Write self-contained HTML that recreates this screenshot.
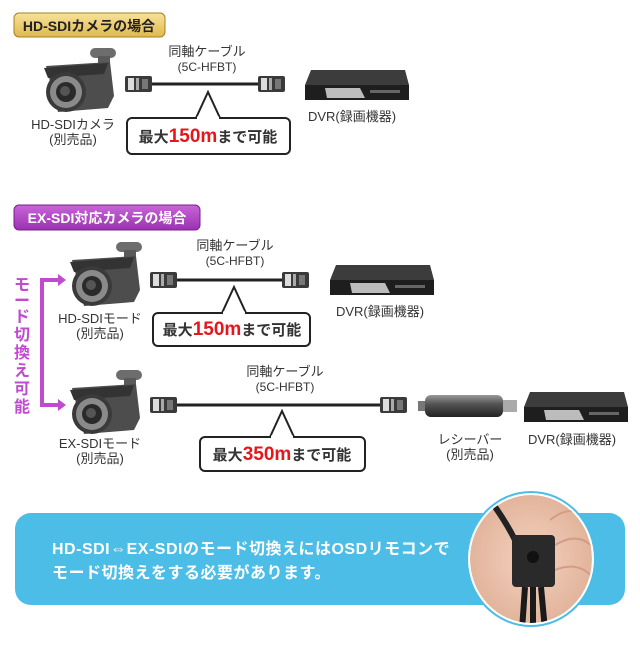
<!DOCTYPE html>
<html><head><meta charset="utf-8"><style>
body{margin:0;background:#fff;width:640px;height:640px;overflow:hidden}
svg text{font-family:"Liberation Sans","Noto Sans CJK JP",sans-serif}
</style></head><body>
<svg width="640" height="640" viewBox="0 0 640 640" xmlns="http://www.w3.org/2000/svg">
<defs>
<linearGradient id="gold" x1="0" y1="0" x2="0" y2="1"><stop offset="0" stop-color="#f7e29a"/><stop offset="1" stop-color="#e0b94e"/></linearGradient>
<linearGradient id="purp" x1="0" y1="0" x2="0" y2="1"><stop offset="0" stop-color="#c865d8"/><stop offset="1" stop-color="#9a32b0"/></linearGradient>
<linearGradient id="rec" x1="0" y1="0" x2="0" y2="1"><stop offset="0" stop-color="#999"/><stop offset="0.4" stop-color="#555"/><stop offset="1" stop-color="#222"/></linearGradient>
<radialGradient id="hand" cx="0.5" cy="0.5" r="0.5"><stop offset="0" stop-color="#f4d2bf"/><stop offset="1" stop-color="#e2b49c"/></radialGradient>
<g id="cam">
 <rect x="52" y="2" width="26" height="10" rx="5" fill="#6d6d6d"/>
 <rect x="60" y="10" width="12" height="10" fill="#5a5a5a"/>
 <path d="M8 20 L72 16 L76 50 L70 62 L20 66 Z" fill="#4d4d4d"/>
 <path d="M6 22 L70 17 L66 28 L10 32 Z" fill="#333"/>
 <ellipse cx="28" cy="46" rx="20" ry="20" fill="#3a3a3a"/>
 <ellipse cx="28" cy="46" rx="16" ry="16" fill="#8a8a8a"/>
 <ellipse cx="28" cy="46" rx="10" ry="10" fill="#2a2a2a"/>
 <ellipse cx="27" cy="45" rx="5" ry="5" fill="#555"/>
</g>
<g id="dvr">
 <path d="M6 0 L100 0 L104 15 L0 15 Z" fill="#3c3c3c"/>
 <rect x="0" y="15" width="104" height="15" fill="#1e1e1e"/>
 <path d="M20 18 L55 18 L60 28 L22 28 Z" fill="#bcbcbc"/>
 <rect x="65" y="20" width="30" height="3" fill="#666"/>
</g>
<g id="bnc">
 <rect x="0" y="0" width="27" height="16" rx="2" fill="#3a3a3a"/>
 <rect x="3" y="2" width="6" height="12" fill="#ddd"/>
 <rect x="11" y="2" width="3" height="12" fill="#aaa"/>
 <rect x="17" y="3" width="6" height="10" fill="#777"/>
</g>
<clipPath id="cc"><ellipse cx="531" cy="559" rx="61" ry="64"/></clipPath>
</defs>

<!-- Section 1 -->
<rect x="14" y="13" width="151" height="24" rx="5" fill="url(#gold)" stroke="#a4821f"/>
<text x="89" y="31" font-size="14" font-weight="bold" fill="#222" text-anchor="middle">HD-SDIカメラの場合</text>
<use href="#cam" x="38" y="46"/>
<text x="73" y="129" font-size="13" fill="#333" text-anchor="middle">HD-SDIカメラ</text>
<text x="73" y="144" font-size="13" fill="#333" text-anchor="middle">(別売品)</text>
<text x="207" y="56" font-size="13" fill="#333" text-anchor="middle">同軸ケーブル</text>
<text x="207" y="71" font-size="12" fill="#333" text-anchor="middle">(5C-HFBT)</text>
<line x1="150" y1="84" x2="262" y2="84" stroke="#222" stroke-width="3"/>
<use href="#bnc" x="125" y="76"/>
<use href="#bnc" x="258" y="76"/>
<path d="M196 118 L208 92 L220 118" fill="#fff" stroke="#222" stroke-width="2"/>
<rect x="127" y="118" width="163" height="36" rx="5" fill="#fff" stroke="#222" stroke-width="2"/>
<line x1="197" y1="118" x2="219" y2="118" stroke="#fff" stroke-width="3"/>
<text x="208" y="142" font-size="15" font-weight="bold" fill="#333" text-anchor="middle">最大<tspan fill="#e8161c" font-size="19">150m</tspan>まで可能</text>
<use href="#dvr" x="305" y="70"/>
<text x="352" y="121" font-size="13" fill="#333" text-anchor="middle">DVR(録画機器)</text>

<!-- Section 2 -->
<rect x="14" y="205" width="186" height="25" rx="5" fill="url(#purp)" stroke="#7a1f8c"/>
<text x="107" y="223" font-size="14" font-weight="bold" fill="#fff" text-anchor="middle">EX-SDI対応カメラの場合</text>

<g fill="#c04bd0">
 <path d="M40 278 L58 278 L58 274 L66 280 L58 286 L58 282 L44 282 L44 403 L58 403 L58 399 L66 405 L58 411 L58 407 L40 407 Z"/>
</g>
<g font-size="16" font-weight="bold" fill="#c04bd0" text-anchor="middle">
 <text x="22" y="290">モ</text><text x="22" y="306">ー</text><text x="22" y="322">ド</text><text x="22" y="340">切</text><text x="22" y="358">換</text><text x="22" y="376">え</text><text x="22" y="394">可</text><text x="22" y="412">能</text>
</g>

<use href="#cam" x="64" y="240"/>
<text x="100" y="323" font-size="13" fill="#333" text-anchor="middle">HD-SDIモード</text>
<text x="100" y="338" font-size="13" fill="#333" text-anchor="middle">(別売品)</text>
<text x="235" y="250" font-size="13" fill="#333" text-anchor="middle">同軸ケーブル</text>
<text x="235" y="265" font-size="12" fill="#333" text-anchor="middle">(5C-HFBT)</text>
<line x1="172" y1="280" x2="285" y2="280" stroke="#222" stroke-width="3"/>
<use href="#bnc" x="150" y="272"/>
<use href="#bnc" x="282" y="272"/>
<path d="M222 313 L234 287 L246 313" fill="#fff" stroke="#222" stroke-width="2"/>
<rect x="153" y="313" width="157" height="33" rx="5" fill="#fff" stroke="#222" stroke-width="2"/>
<line x1="223" y1="313" x2="245" y2="313" stroke="#fff" stroke-width="3"/>
<text x="232" y="335" font-size="15" font-weight="bold" fill="#333" text-anchor="middle">最大<tspan fill="#e8161c" font-size="19">150m</tspan>まで可能</text>
<use href="#dvr" x="330" y="265"/>
<text x="380" y="316" font-size="13" fill="#333" text-anchor="middle">DVR(録画機器)</text>

<use href="#cam" x="64" y="368"/>
<text x="100" y="448" font-size="13" fill="#333" text-anchor="middle">EX-SDIモード</text>
<text x="100" y="463" font-size="13" fill="#333" text-anchor="middle">(別売品)</text>
<text x="285" y="376" font-size="13" fill="#333" text-anchor="middle">同軸ケーブル</text>
<text x="285" y="391" font-size="12" fill="#333" text-anchor="middle">(5C-HFBT)</text>
<line x1="172" y1="405" x2="385" y2="405" stroke="#222" stroke-width="3"/>
<use href="#bnc" x="150" y="397"/>
<use href="#bnc" x="380" y="397"/>
<path d="M270 437 L282 411 L294 437" fill="#fff" stroke="#222" stroke-width="2"/>
<rect x="200" y="437" width="165" height="34" rx="5" fill="#fff" stroke="#222" stroke-width="2"/>
<line x1="271" y1="437" x2="293" y2="437" stroke="#fff" stroke-width="3"/>
<text x="282" y="460" font-size="15" font-weight="bold" fill="#333" text-anchor="middle">最大<tspan fill="#e8161c" font-size="19">350m</tspan>まで可能</text>

<rect x="418" y="401" width="8" height="10" fill="#777"/>
<rect x="425" y="395" width="78" height="22" rx="6" fill="url(#rec)"/>
<rect x="503" y="400" width="14" height="12" fill="#aaa"/>
<text x="470" y="444" font-size="13" fill="#333" text-anchor="middle">レシーバー</text>
<text x="470" y="459" font-size="13" fill="#333" text-anchor="middle">(別売品)</text>
<use href="#dvr" x="524" y="392"/>
<text x="572" y="444" font-size="13" fill="#333" text-anchor="middle">DVR(録画機器)</text>

<!-- bottom -->
<rect x="15" y="513" width="610" height="92" rx="16" fill="#4bbde6"/>
<text x="52" y="554" font-size="16" font-weight="bold" fill="#fff" letter-spacing="0.5">HD-SDI⇔EX-SDIのモード切換えにはOSDリモコンで</text>
<text x="52" y="578" font-size="16" font-weight="bold" fill="#fff" letter-spacing="0.5">モード切換えをする必要があります。</text>
<ellipse cx="531" cy="559" rx="65" ry="68" fill="#4bbde6"/>
<ellipse cx="531" cy="559" rx="63" ry="66" fill="#fff"/>
<g clip-path="url(#cc)">
 <ellipse cx="531" cy="559" rx="61" ry="64" fill="url(#hand)"/>
 <path d="M550 520 Q575 500 590 525 M555 545 Q580 530 595 550 M555 570 Q580 560 595 580" stroke="#d39c86" stroke-width="2" fill="none"/>
 <path d="M490 500 Q505 520 515 540" stroke="#222" stroke-width="6" fill="none"/>
 <rect x="512" y="535" width="43" height="52" rx="4" fill="#2a2a2a"/>
 <circle cx="533" cy="557" r="6" fill="#111"/>
 <path d="M525 587 L522 630 M533 587 L533 630 M541 587 L545 630" stroke="#1a1a1a" stroke-width="6"/>
</g>
</svg>
</body></html>
